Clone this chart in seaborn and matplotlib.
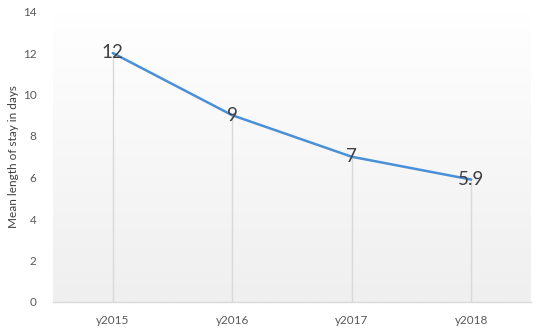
import numpy as np
import pandas as pd
import matplotlib
matplotlib.use("Agg")
import matplotlib.pyplot as plt
import seaborn as sns
from matplotlib.colors import LinearSegmentedColormap

categories = ["y2015", "y2016", "y2017", "y2018"]
values = [12, 9, 7, 5.9]
labels = ["12", "9", "7", "5.9"]
y_ticks = [0, 2, 4, 6, 8, 10, 12, 14]
y_label = "Mean length of stay in days"

sns.set_theme(style="white")
plt.rcParams["font.family"] = ["Lato", "DejaVu Sans"]

df = pd.DataFrame({"cat": categories, "val": values})
df["x"] = np.arange(len(categories))

fig = plt.figure(figsize=(5.44, 3.32), dpi=100)
ax = fig.add_axes([53 / 544, 1 - 302 / 332, 478 / 544, 290.5 / 332])

# gradient background
grad = np.linspace(0, 1, 256).reshape(-1, 1)
cmap = LinearSegmentedColormap.from_list("g", ["#ffffff", "#efefef"])
ax.imshow(grad, extent=[0, 1, 0, 1], transform=ax.transAxes, cmap=cmap,
          aspect="auto", zorder=0, origin="upper")

# drop lines
ax.vlines(df["x"], 0, df["val"], colors="#d9d9d9", linewidth=1, zorder=1)

sns.lineplot(data=df, x="x", y="val", ax=ax, color="#4a90d9", linewidth=1.8,
             zorder=3)

for xi, v, lab in zip(df["x"], values, labels):
    ax.text(xi, v, lab, ha="center", va="center", fontsize=13.5,
            color="#404040", zorder=4)

ax.set_xlim(-0.5, len(categories) - 0.5)
ax.set_ylim(0, 14)
ax.set_yticks(y_ticks)
ax.set_xticks(df["x"])
ax.set_xticklabels(categories)
ax.tick_params(axis="both", length=0, labelsize=8.5, colors="#595959")
ax.tick_params(axis="y", pad=12)
ax.tick_params(axis="x", pad=9)
ax.set_xlabel("")
ax.set_ylabel(y_label, fontsize=8.5, color="#404040")
ax.yaxis.set_label_coords(-0.072, 0.5)
ax.grid(False)
for s in ["top", "right", "left"]:
    ax.spines[s].set_visible(False)
ax.spines["bottom"].set_color("#d9d9d9")
ax.spines["bottom"].set_linewidth(1)

fig.savefig("out.png", dpi=100)
